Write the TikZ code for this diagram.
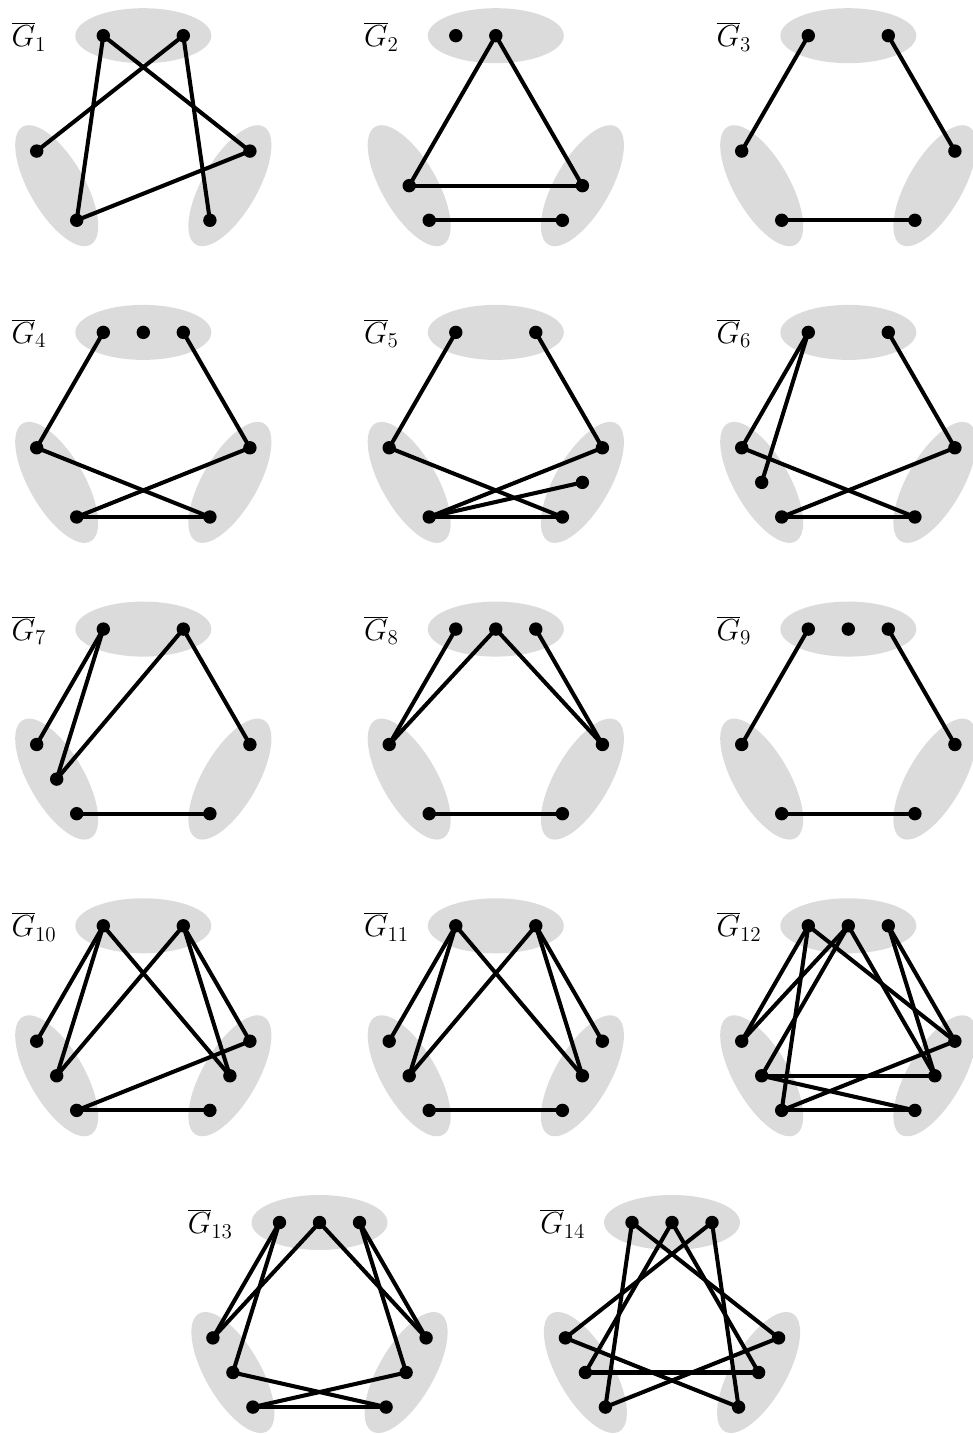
\documentclass[tikz,border=0pt]{standalone}
\usetikzlibrary{positioning}
\definecolor{zonegray}{gray}{0.86}

\begin{document}
\begin{tikzpicture}[x=0.02cm,y=0.02cm,
  zone/.style={fill=zonegray},
  edge/.style={line width=2.3pt,line cap=round},
  glabel/.style={font=\LARGE,inner sep=0pt,anchor=base west}]
\useasboundingbox (0,0) rectangle (973,1434);

% the three parts of every panel, its label and its nine vertex places
\foreach \g/\cx/\cy in {1/143.3/1298.3,2/495.8/1298.3,3/848.3/1298.3,
  4/143.3/1001.6,5/495.8/1001.6,6/848.3/1001.6,
  7/143.3/704.9,8/495.8/704.9,9/848.3/704.9,
  10/143.3/408.2,11/495.8/408.2,12/848.3/408.2,
  13/319.5/111.5,14/672/111.5}{
\begin{scope}[shift={(\cx,\cy)}]
\fill[zone] (0,100) ellipse [x radius=68,y radius=27.5];
\fill[zone] (-86.6,-50) ellipse [x radius=68,y radius=27.5,rotate=-60];
\fill[zone] (86.6,-50) ellipse [x radius=68,y radius=27.5,rotate=60];
\node[glabel] (lab\g) at (-132,89) {$\overline{G}_{\g}$};
\coordinate (g\g a1) at (-40,100);
\coordinate (g\g a2) at (0,100);
\coordinate (g\g a3) at (40,100);
\coordinate (g\g b1) at (-106.6,-15.4);
\coordinate (g\g b2) at (-86.6,-50);
\coordinate (g\g b3) at (-66.6,-84.6);
\coordinate (g\g c1) at (106.6,-15.4);
\coordinate (g\g c2) at (86.6,-50);
\coordinate (g\g c3) at (66.6,-84.6);
\end{scope}
}

% G1
\foreach \u/\w in {a1/b3,a1/c1,a3/b1,a3/c3,b3/c1}
  \draw[edge] (g1\u) -- (g1\w);
\foreach \v in {a1,a3,b1,b3,c1,c3} \fill (g1\v) circle [radius=6.7];

% G2
\foreach \u/\w in {a2/b2,a2/c2,b2/c2,b3/c3}
  \draw[edge] (g2\u) -- (g2\w);
\foreach \v in {a1,a2,b2,b3,c2,c3} \fill (g2\v) circle [radius=6.7];

% G3
\foreach \u/\w in {a1/b1,a3/c1,b3/c3}
  \draw[edge] (g3\u) -- (g3\w);
\foreach \v in {a1,a3,b1,b3,c1,c3} \fill (g3\v) circle [radius=6.7];

% G4
\foreach \u/\w in {a1/b1,a3/c1,b1/c3,b3/c1,b3/c3}
  \draw[edge] (g4\u) -- (g4\w);
\foreach \v in {a1,a2,a3,b1,b3,c1,c3} \fill (g4\v) circle [radius=6.7];

% G5
\foreach \u/\w in {a1/b1,a3/c1,b1/c3,b3/c1,b3/c2,b3/c3}
  \draw[edge] (g5\u) -- (g5\w);
\foreach \v in {a1,a3,b1,b3,c1,c2,c3} \fill (g5\v) circle [radius=6.7];

% G6
\foreach \u/\w in {a1/b1,a1/b2,a3/c1,b1/c3,b3/c1,b3/c3}
  \draw[edge] (g6\u) -- (g6\w);
\foreach \v in {a1,a3,b1,b2,b3,c1,c3} \fill (g6\v) circle [radius=6.7];

% G7
\foreach \u/\w in {a1/b1,a1/b2,a3/b2,a3/c1,b3/c3}
  \draw[edge] (g7\u) -- (g7\w);
\foreach \v in {a1,a3,b1,b2,b3,c1,c3} \fill (g7\v) circle [radius=6.7];

% G8
\foreach \u/\w in {a1/b1,a2/b1,a2/c1,a3/c1,b3/c3}
  \draw[edge] (g8\u) -- (g8\w);
\foreach \v in {a1,a2,a3,b1,b3,c1,c3} \fill (g8\v) circle [radius=6.7];

% G9
\foreach \u/\w in {a1/b1,a3/c1,b3/c3}
  \draw[edge] (g9\u) -- (g9\w);
\foreach \v in {a1,a2,a3,b1,b3,c1,c3} \fill (g9\v) circle [radius=6.7];

% G10
\foreach \u/\w in {a1/b1,a1/b2,a1/c2,a3/b2,a3/c1,a3/c2,b3/c1,b3/c3}
  \draw[edge] (g10\u) -- (g10\w);
\foreach \v in {a1,a3,b1,b2,b3,c1,c2,c3} \fill (g10\v) circle [radius=6.7];

% G11
\foreach \u/\w in {a1/b1,a1/b2,a1/c2,a3/b2,a3/c1,a3/c2,b3/c3}
  \draw[edge] (g11\u) -- (g11\w);
\foreach \v in {a1,a3,b1,b2,b3,c1,c2,c3} \fill (g11\v) circle [radius=6.7];

% G12
\foreach \u/\w in {a1/b1,a1/b3,a1/c1,a2/b1,a2/b2,a2/c2,a3/c1,a3/c2,
  b2/c2,b2/c3,b3/c1,b3/c3}
  \draw[edge] (g12\u) -- (g12\w);
\foreach \v in {a1,a2,a3,b1,b2,b3,c1,c2,c3} \fill (g12\v) circle [radius=6.7];

% G13
\foreach \u/\w in {a1/b1,a1/b2,a2/b1,a2/c1,a3/c1,a3/c2,b2/c3,b3/c2,b3/c3}
  \draw[edge] (g13\u) -- (g13\w);
\foreach \v in {a1,a2,a3,b1,b2,b3,c1,c2,c3} \fill (g13\v) circle [radius=6.7];

% G14
\foreach \u/\w in {a1/b3,a1/c1,a2/b2,a2/c2,a3/b1,a3/c3,b1/c3,b2/c2,b3/c1}
  \draw[edge] (g14\u) -- (g14\w);
\foreach \v in {a1,a2,a3,b1,b2,b3,c1,c2,c3} \fill (g14\v) circle [radius=6.7];

\end{tikzpicture}
\end{document}
